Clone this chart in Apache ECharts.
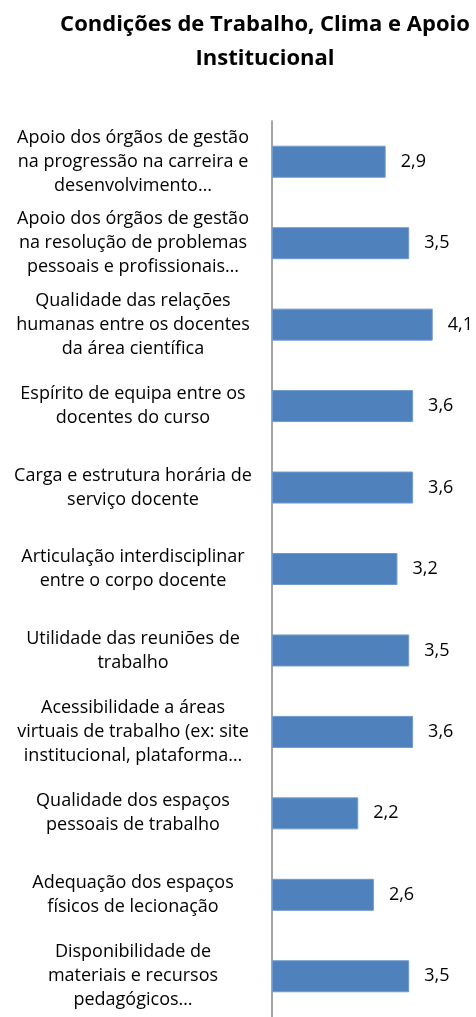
<!DOCTYPE html>
<html>
<head>
<meta charset="utf-8">
<script src="https://cdn.jsdelivr.net/npm/echarts@6/dist/echarts.min.js"></script>
<style>
  html, body { margin: 0; padding: 0; background: #fff; }
  #chart { width: 476px; height: 1017px; }
</style>
</head>
<body>
<div id="chart"></div>
<script>
// categorias (de cima para baixo)
var categorias = [
  'Apoio dos órgãos de gestão\nna progressão na carreira e\ndesenvolvimento…',
  'Apoio dos órgãos de gestão\nna resolução de problemas\npessoais e profissionais…',
  'Qualidade das relações\nhumanas entre os docentes\nda área científica',
  'Espírito de equipa entre os\ndocentes do curso',
  'Carga e estrutura horária de\nserviço docente',
  'Articulação interdisciplinar\nentre o corpo docente',
  'Utilidade das reuniões de\ntrabalho',
  'Acessibilidade a áreas\nvirtuais de trabalho (ex: site\ninstitucional, plataforma…',
  'Qualidade dos espaços\npessoais de trabalho',
  'Adequação dos espaços\nfísicos de lecionação',
  'Disponibilidade de\nmateriais e recursos\npedagógicos…'
];
var valores = [2.9, 3.5, 4.1, 3.6, 3.6, 3.2, 3.5, 3.6, 2.2, 2.6, 3.5];

var chart = echarts.init(document.getElementById('chart'));

var option = {
  backgroundColor: '#fff',
  animation: false,
  title: {
    text: 'Condições de Trabalho, Clima e Apoio\nInstitucional',
    left: 265,
    top: 8,
    padding: 0,
    textAlign: 'center',
    textStyle: {
      fontFamily: 'Open Sans',
      fontWeight: 'bold',
      fontSize: 22,
      lineHeight: 34,
      color: '#000'
    }
  },
  grid: {
    left: 272,
    right: 8,
    top: 121,
    bottom: -4,
    containLabel: false
  },
  xAxis: {
    type: 'value',
    min: 0,
    max: 5,
    show: false
  },
  yAxis: {
    type: 'category',
    inverse: true,
    data: categorias,
    axisLine: {
      show: true,
      lineStyle: { color: '#868686', width: 1.5 }
    },
    axisTick: { show: false },
    splitLine: { show: false },
    axisLabel: {
      interval: 0,
      align: 'center',
      margin: 139,
      fontFamily: 'Open Sans',
      fontSize: 18,
      lineHeight: 24,
      color: '#000'
    }
  },
  series: [{
    type: 'bar',
    data: valores,
    barWidth: 32,
    itemStyle: {
      color: '#4F81BD',
      borderColor: '#7199cc',
      borderWidth: 1
    },
    label: {
      show: true,
      position: 'right',
      distance: 15,
      fontFamily: 'Open Sans',
      fontSize: 18,
      color: '#000',
      formatter: function (p) {
        return p.value.toFixed(1).replace('.', ',');
      }
    }
  }]
};

chart.setOption(option);
</script>
</body>
</html>
